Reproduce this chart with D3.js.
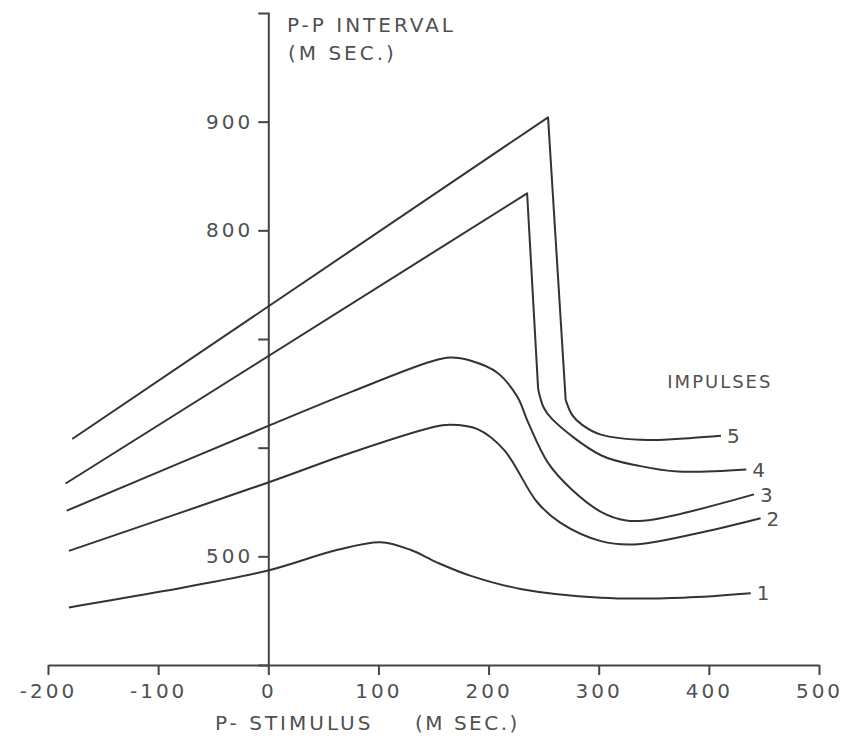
<!DOCTYPE html>
<html>
<head>
<meta charset="utf-8">
<script src="https://cdn.jsdelivr.net/npm/d3@7"></script>
<style>
body { margin: 0; background: #fff; }
text { font-family: "DejaVu Sans", sans-serif; fill: #505050; }
</style>
</head>
<body>
<script>
var width = 849,
    height = 744;

// axis ticks
var xTicks = [-200, -100, 0, 100, 200, 300, 400, 500];
var yTicks = [500, 600, 700, 800, 900];
var yTickLabels = ["500", "", "", "800", "900"];

// one curve per number of impulses: P-stimulus (ms) vs P-P interval (ms)
var curveNames = ["1", "2", "3", "4", "5"];

var stimulus1 = [-181, -95, 0, 63, 102, 129, 154, 184, 229, 302, 377, 438];
var interval1 = [453, 468, 487, 506, 513, 506, 494, 482, 470, 462, 462, 466];

var stimulus2 = [-181, 0, 77, 150, 165, 190, 214, 244, 265, 302, 332, 393, 447];
var interval2 = [505, 568, 596, 619, 621, 617, 598, 550, 531, 514, 511, 522, 535];

var stimulus3 = [-183, 0, 77, 147, 165, 184, 208, 226, 236, 254, 275, 302, 325, 350, 441];
var interval3 = [542, 620, 652, 679, 683, 680, 669, 647, 623, 586, 562, 541, 533, 534, 557];

var stimulus4 = [-184, 235, 245, 250, 258, 302, 338, 372, 434];
var interval4 = [567, 834, 654, 637, 626, 593, 583, 578, 580];

var stimulus5 = [-178, 254, 270, 276, 285, 302, 345, 384, 411];
var interval5 = [608, 904, 644, 630, 621, 612, 607, 609, 611];

// how many leading segments of each curve are straight
var straightSegments = [0, 0, 0, 2, 2];

var stimulus = [stimulus1, stimulus2, stimulus3, stimulus4, stimulus5];
var interval = [interval1, interval2, interval3, interval4, interval5];

var svg = d3.select('body').append('svg')
    .attr('width', width)
    .attr('height', height);

var x = d3.scaleLinear().domain([-200, 500]).range([48, 819]);
var y = d3.scaleLinear().domain([400, 1000]).range([665, 13]);

var axisColor = '#444';

// x axis
var gx = svg.append('g')
    .attr('transform', 'translate(0,' + y(400) + ')')
    .call(d3.axisBottom(x).tickValues(xTicks).tickSize(10).tickSizeOuter(0)
        .tickFormat(function (d) { return String(d); }))
    .attr('font-size', null).attr('font-family', null);
gx.selectAll('text')
    .attr('y', 33).attr('dy', 0)
    .style('font-size', '20px').style('letter-spacing', '3px');

// y axis at zero stimulus
var gy = svg.append('g')
    .attr('transform', 'translate(' + x(0) + ',0)')
    .call(d3.axisLeft(y).tickValues(yTicks).tickSize(10).tickSizeOuter(10)
        .tickFormat(function (d, i) { return yTickLabels[i]; }))
    .attr('font-size', null).attr('font-family', null);
gy.selectAll('text')
    .attr('x', -15)
    .style('font-size', '20px').style('letter-spacing', '3px');

svg.selectAll('.domain, .tick line')
    .attr('stroke', axisColor)
    .attr('stroke-width', 2);

// curves
var line = d3.line()
    .x(function (d) { return x(d[0]); })
    .y(function (d) { return y(d[1]); });

var curves = svg.append('g')
    .attr('fill', 'none')
    .attr('stroke', '#333')
    .attr('stroke-width', 2)
    .attr('stroke-linejoin', 'round');

for (var i = 0; i < curveNames.length; i++) {
    var pts = d3.zip(stimulus[i], interval[i]);
    var k = straightSegments[i];
    if (k > 0) {
        curves.append('path').attr('d', line.curve(d3.curveLinear)(pts.slice(0, k + 1)));
    }
    curves.append('path').attr('d', line.curve(d3.curveCatmullRom.alpha(0.5))(pts.slice(k)));

    var last = pts[pts.length - 1];
    svg.append('text')
        .attr('x', x(last[0]) + 6)
        .attr('y', y(last[1]))
        .attr('dy', '0.36em')
        .style('font-size', '20px')
        .text(curveNames[i]);
}

svg.append('text')
    .attr('x', x(410))
    .attr('y', y(661))
    .attr('dy', '0.36em')
    .attr('text-anchor', 'middle')
    .style('font-size', '18px')
    .style('letter-spacing', '2px')
    .text('IMPULSES');

// axis titles
svg.append('text')
    .attr('x', 287).attr('y', 32)
    .style('font-size', '20px').style('letter-spacing', '3px')
    .text('P-P  INTERVAL');
svg.append('text')
    .attr('x', 288).attr('y', 60)
    .style('font-size', '20px').style('letter-spacing', '3px')
    .text('(M  SEC.)');

svg.append('text')
    .attr('x', 215).attr('y', 730)
    .style('font-size', '20px').style('letter-spacing', '3px')
    .text('P- STIMULUS');
svg.append('text')
    .attr('x', 415).attr('y', 730)
    .style('font-size', '20px').style('letter-spacing', '2.5px')
    .text('(M  SEC.)');
</script>
</body>
</html>
